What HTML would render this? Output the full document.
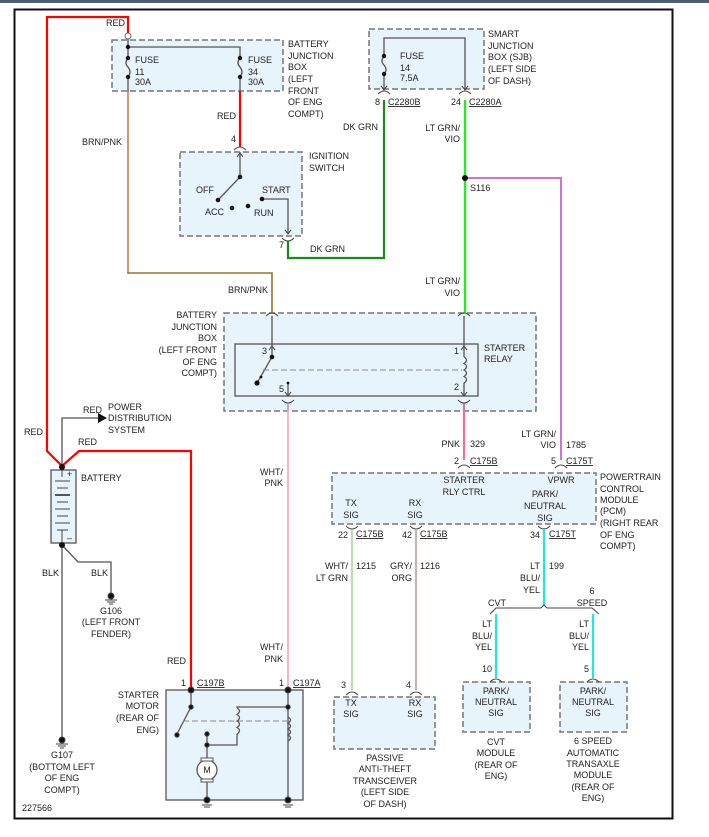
<!DOCTYPE html>
<html><head><meta charset="utf-8"><style>
html,body{margin:0;padding:0;background:#fff}
svg{display:block}
text{font-family:"Liberation Sans",sans-serif;font-size:9px;fill:#222}
.e{text-anchor:end}.m{text-anchor:middle}
.box{fill:#e8f4fb;stroke:#777;stroke-width:1.5;stroke-dasharray:6,3}
.sb{fill:#e8f4fb;stroke:#555;stroke-width:1.3}
.w{fill:none;stroke:#555;stroke-width:1.3}
.c{fill:none;stroke:#444;stroke-width:1}
</style></head><body>
<svg width="709" height="837" viewBox="0 0 709 837" xmlns="http://www.w3.org/2000/svg">
<rect x="0" y="0" width="709" height="3" fill="#4d5f72"/>
<rect x="14.5" y="9.5" width="658" height="809" fill="none" stroke="#111" stroke-width="2"/>

<!-- boxes -->
<rect class="box" x="112" y="40" width="171" height="51"/>
<rect class="box" x="180" y="152" width="122" height="84"/>
<rect class="box" x="369" y="29" width="115" height="60"/>
<rect class="box" x="224" y="313" width="312" height="98"/>
<rect class="sb" x="235" y="344" width="243" height="52" fill="#eaf5fb"/>
<rect class="box" x="332" y="473" width="264" height="51"/>
<rect class="box" x="334" y="697" width="101" height="52"/>
<rect class="box" x="463" y="682" width="67" height="50"/>
<rect class="box" x="560" y="682" width="67" height="50"/>
<rect class="sb" x="166" y="690" width="137" height="110"/>
<rect class="sb" x="51" y="470" width="25" height="73"/>

<!-- wires -->
<polyline points="128,36 128,17 47,17 47,451 62,466 79,451 191,451 191,690" fill="none" stroke="#f00" stroke-width="2.2"/>
<line x1="240" y1="91" x2="240" y2="147" stroke="#f00" stroke-width="2.2"/>
<polyline points="128,91 128,273 272,273 272,313" fill="none" stroke="#a0702a" stroke-width="1.6"/>
<polyline points="128,92 128,272" fill="none" stroke="#f4a0a0" stroke-width="0.6"/>
<polyline points="288,241 288,258 384,258 384,100" fill="none" stroke="#1a8a1a" stroke-width="2.2"/>
<line x1="465" y1="100" x2="465" y2="313" stroke="#22ee22" stroke-width="2.4"/>
<polyline points="465,178 561,178 561,460" fill="none" stroke="#d070d8" stroke-width="2"/>
<line x1="288" y1="403" x2="288" y2="690" stroke="#f4b8c4" stroke-width="2"/>
<line x1="464" y1="403" x2="464" y2="460" stroke="#f07090" stroke-width="2.2"/>
<line x1="352" y1="530" x2="352" y2="690" stroke="#bde0b0" stroke-width="2.2"/>
<line x1="416" y1="530" x2="416" y2="690" stroke="#c0b8b0" stroke-width="2.2"/>
<line x1="544" y1="530" x2="544" y2="605" stroke="#20e8e0" stroke-width="2.2"/>
<line x1="496" y1="614" x2="496" y2="678" stroke="#20e8e0" stroke-width="2.2"/>
<line x1="593" y1="614" x2="593" y2="678" stroke="#20e8e0" stroke-width="2.2"/>
<polyline class="c" points="490,614 496,608 541,608 544,605 547,608 592,608 599,614"/>

<!-- battery black wires -->
<polyline class="w" points="62,466 62,418 98,418"/>
<polygon points="98,413 107,418 98,423" fill="#111"/>
<polyline class="w" points="62,545 62,740"/>
<polyline class="w" points="62,545 78,562 111,562 111,594"/>
<circle cx="62" cy="467" r="3" fill="#111"/><circle cx="62" cy="545" r="3" fill="#111"/>
<g stroke="#444" stroke-width="1">
<line x1="62" y1="470" x2="62" y2="477"/>
<line x1="55" y1="481" x2="70" y2="481"/><line x1="57" y1="488" x2="68" y2="488"/>
<line x1="55" y1="495" x2="70" y2="495" stroke-width="1.8"/><line x1="57" y1="502" x2="68" y2="502"/>
<line x1="55" y1="509" x2="70" y2="509"/><line x1="57" y1="516" x2="68" y2="516"/>
<line x1="55" y1="523" x2="70" y2="523"/><line x1="57" y1="530" x2="68" y2="530"/>
<line x1="62" y1="530" x2="62" y2="543"/>
</g>
<text x="67" y="477" font-size="8">+</text><text x="67" y="541" font-size="8">–</text>
<!-- grounds -->
<g fill="#111" stroke="#444" stroke-width="1">
<circle cx="111" cy="596" r="3"/><line x1="105" y1="600" x2="117" y2="600"/><line x1="107" y1="602" x2="115" y2="602"/><line x1="109" y1="604" x2="113" y2="604"/>
<circle cx="62" cy="740" r="3"/><line x1="56" y1="744" x2="68" y2="744"/><line x1="58" y1="746" x2="66" y2="746"/><line x1="60" y1="748" x2="64" y2="748"/>
</g>

<!-- BJB internals -->
<circle cx="128" cy="36" r="3" fill="#fff" stroke="#666"/>
<polyline class="w" points="128,39 128,58"/><polyline class="w" points="128,47 240,47 240,58"/>
<path class="w" d="M128,58 q-4,5 0,9 q4,5 0,10 L128,91"/>
<path class="w" d="M240,58 q-4,5 0,9 q4,5 0,10 L240,91"/>
<g fill="#111"><circle cx="128" cy="47" r="2.2"/><circle cx="128" cy="58" r="2.2"/><circle cx="128" cy="77" r="2.2"/><circle cx="240" cy="58" r="2.2"/><circle cx="240" cy="77" r="2.2"/></g>

<!-- ignition -->
<path class="c" d="M234,150 q6,-6 12,0"/>
<polyline class="w" points="240,152 240,177 219,199"/>
<polyline class="c" points="237,157 240,153 243,157"/>
<polyline class="w" points="262,199 288,199 288,233"/>
<polyline class="c" points="285,230 288,234 291,230"/>
<path class="c" d="M282,238 q6,6 12,0"/>
<g fill="#111"><circle cx="240" cy="177" r="2.3"/><circle cx="218" cy="200" r="2.3"/><circle cx="232" cy="208" r="2.3"/><circle cx="248" cy="206" r="2.3"/><circle cx="262" cy="199" r="2.3"/></g>

<!-- SJB internals -->
<polyline class="w" points="384,56 384,38 465,38 465,89"/>
<path class="w" d="M384,56 q-4,5 0,9 q4,5 0,9 L384,89"/>
<g fill="#111"><circle cx="384" cy="56" r="2.2"/><circle cx="384" cy="74" r="2.2"/><circle cx="465" cy="178" r="3"/></g>
<polyline class="c" points="381,86 384,90 387,86"/><polyline class="c" points="462,86 465,90 468,86"/>
<path class="c" d="M378,94 q6,-6 12,0"/><path class="c" d="M459,94 q6,-6 12,0"/>

<!-- relay internals -->
<path class="c" d="M266,316 q6,-6 12,0"/><path class="c" d="M458,316 q6,-6 12,0"/>
<path class="c" d="M282,400 q6,6 12,0"/><path class="c" d="M458,400 q6,6 12,0"/>
<polyline class="w" points="272,316 272,357 257,383"/>
<polyline class="c" points="269,350 272,346 275,350"/>
<polyline class="w" points="464,316 464,357"/><polyline class="c" points="461,350 464,346 467,350"/>
<path class="w" d="M464,357 q5,3 0,6.5 q5,3 0,6.5 q5,3 0,6.5 q5,3 0,6.5"/>
<polyline class="w" points="464,383 464,396"/><polyline class="c" points="461,392 464,396 467,392"/>
<polyline class="w" points="288,383 288,396"/><polyline class="c" points="285,392 288,396 291,392"/>
<line x1="263" y1="370" x2="462" y2="370" stroke="#888" stroke-dasharray="6,3"/>
<line x1="288" y1="403" x2="288" y2="411" stroke="#999"/><line x1="464" y1="403" x2="464" y2="411" stroke="#999"/>
<g fill="#111"><circle cx="272" cy="357" r="2.3"/><circle cx="257" cy="383" r="2.6"/><circle cx="261" cy="377" r="1.4"/><circle cx="288" cy="383" r="1.4"/></g>

<!-- PCM / other connectors -->
<path class="c" d="M458,468 q6,-6 12,0"/><path class="c" d="M555,468 q6,-6 12,0"/>
<path class="c" d="M346,526 q6,6 12,0"/><path class="c" d="M410,526 q6,6 12,0"/><path class="c" d="M538,526 q6,6 12,0"/>
<path class="c" d="M346,695 q6,-6 12,0"/><path class="c" d="M410,695 q6,-6 12,0"/>
<path class="c" d="M490,682 q6,-6 12,0"/><path class="c" d="M587,682 q6,-6 12,0"/>

<!-- starter motor internals -->
<polyline class="w" points="191,690 191,707 177,734"/>
<line x1="183" y1="721" x2="287" y2="721" stroke="#888" stroke-dasharray="6,3"/>
<polyline class="w" points="288,690 288,800"/>
<polyline class="w" points="288,707 237,707 237,708"/>
<path class="w" d="M237,708 q5,3 0,6.5 q5,3 0,6.5 q5,3 0,6.5 q5,3 0,6.5"/>
<polyline class="w" points="237,734 237,745 207,745 207,760"/><line class="w" x1="207" y1="734" x2="207" y2="745"/>
<path class="w" d="M288,717 q5,3 0,6 q5,3 0,6 q5,3 0,6 q5,3 0,6"/>
<circle cx="207" cy="770" r="10" fill="#fff" stroke="#555" stroke-width="1.3"/>
<rect x="201" y="758" width="12" height="3" fill="#fff" stroke="#555"/><rect x="201" y="779" width="12" height="3" fill="#fff" stroke="#555"/>
<text x="207" y="773" class="m" font-size="8">M</text>
<polyline class="w" points="207,782 207,800"/>
<g fill="#111" stroke="#444" stroke-width="1">
<circle cx="191" cy="690" r="3"/><circle cx="288" cy="690" r="3"/><circle cx="191" cy="707" r="2.2"/><circle cx="177" cy="735" r="2.2"/><circle cx="288" cy="707" r="2.2"/><circle cx="207" cy="734" r="2.2"/><circle cx="207" cy="745" r="2.2"/>
<circle cx="207" cy="800" r="3"/><circle cx="288" cy="800" r="3"/>
<line x1="202" y1="805" x2="212" y2="805"/><line x1="204" y1="807" x2="210" y2="807"/>
<line x1="283" y1="805" x2="293" y2="805"/><line x1="285" y1="807" x2="291" y2="807"/>
</g>

<!-- labels -->
<text x="125" y="26" class="e">RED</text>
<text x="135" y="63">FUSE</text><text x="135" y="75">11</text><text x="135" y="85">30A</text>
<text x="248" y="63">FUSE</text><text x="248" y="75">34</text><text x="248" y="85">30A</text>
<text x="288" y="47">BATTERY</text><text x="288" y="59">JUNCTION</text><text x="288" y="70">BOX</text><text x="288" y="82">(LEFT</text><text x="288" y="94">FRONT</text><text x="288" y="105">OF ENG</text><text x="288" y="117">COMPT)</text>
<text x="236" y="119" class="e">RED</text>
<text x="122" y="145" class="e">BRN/PNK</text>
<text x="236" y="142" class="e">4</text>
<text x="309" y="159">IGNITION</text><text x="309" y="171">SWITCH</text>
<text x="196" y="193">OFF</text><text x="262" y="193">START</text><text x="205" y="215">ACC</text><text x="254" y="216">RUN</text>
<text x="284" y="248" class="e">7</text><text x="310" y="252">DK GRN</text>
<text x="378" y="130" class="e">DK GRN</text>
<text x="400" y="59">FUSE</text><text x="400" y="71">14</text><text x="400" y="81">7.5A</text>
<text x="488" y="37">SMART</text><text x="488" y="49">JUNCTION</text><text x="488" y="60">BOX (SJB)</text><text x="488" y="72">(LEFT SIDE</text><text x="488" y="84">OF DASH)</text>
<text x="380" y="105" class="e">8</text><text x="388" y="105" text-decoration="underline">C2280B</text>
<text x="461" y="105" class="e">24</text><text x="469" y="105" text-decoration="underline">C2280A</text>
<text x="460" y="131" class="e">LT GRN/</text><text x="460" y="142" class="e">VIO</text>
<text x="470" y="191">S116</text>
<text x="460" y="284" class="e">LT GRN/</text><text x="460" y="296" class="e">VIO</text>
<text x="268" y="293" class="e">BRN/PNK</text>
<text x="217" y="318" class="e">BATTERY</text><text x="217" y="330" class="e">JUNCTION</text><text x="217" y="341" class="e">BOX</text><text x="217" y="353" class="e">(LEFT FRONT</text><text x="217" y="365" class="e">OF ENG</text><text x="217" y="376" class="e">COMPT)</text>
<text x="267" y="354" class="e">3</text><text x="459" y="354" class="e">1</text><text x="284" y="392" class="e">5</text><text x="459" y="390" class="e">2</text>
<text x="484" y="351">STARTER</text><text x="484" y="362">RELAY</text>
<text x="83" y="413">RED</text><text x="108" y="410">POWER</text><text x="108" y="421">DISTRIBUTION</text><text x="108" y="433">SYSTEM</text>
<text x="43" y="435" class="e">RED</text><text x="78" y="445">RED</text>
<text x="81" y="481">BATTERY</text>
<text x="59" y="576" class="e">BLK</text><text x="91" y="576">BLK</text>
<text x="111" y="614" class="m">G106</text><text x="111" y="625" class="m">(LEFT FRONT</text><text x="111" y="637" class="m">FENDER)</text>
<text x="62" y="758" class="m">G107</text><text x="62" y="770" class="m">(BOTTOM LEFT</text><text x="62" y="781" class="m">OF ENG</text><text x="62" y="793" class="m">COMPT)</text>
<text x="22" y="811">227566</text>
<text x="283" y="475" class="e">WHT/</text><text x="283" y="486" class="e">PNK</text>
<text x="283" y="650" class="e">WHT/</text><text x="283" y="662" class="e">PNK</text>
<text x="186" y="664" class="e">RED</text>
<text x="186" y="686" class="e">1</text><text x="197" y="686" text-decoration="underline">C197B</text>
<text x="284" y="686" class="e">1</text><text x="293" y="686" text-decoration="underline">C197A</text>
<text x="159" y="698" class="e">STARTER</text><text x="159" y="709" class="e">MOTOR</text><text x="159" y="721" class="e">(REAR OF</text><text x="159" y="733" class="e">ENG)</text>
<text x="460" y="447" class="e">PNK</text><text x="470" y="447">329</text>
<text x="459" y="464" class="e">2</text><text x="470" y="464" text-decoration="underline">C175B</text>
<text x="556" y="437" class="e">LT GRN/</text><text x="556" y="448" class="e">VIO</text><text x="566" y="448">1785</text>
<text x="556" y="464" class="e">5</text><text x="566" y="464" text-decoration="underline">C175T</text>
<text x="464" y="483" class="m">STARTER</text><text x="464" y="495" class="m">RLY CTRL</text>
<text x="561" y="483" class="m">VPWR</text>
<text x="545" y="497" class="m">PARK/</text><text x="545" y="509" class="m">NEUTRAL</text><text x="545" y="521" class="m">SIG</text>
<text x="351" y="506" class="m">TX</text><text x="351" y="518" class="m">SIG</text>
<text x="415" y="506" class="m">RX</text><text x="415" y="518" class="m">SIG</text>
<text x="600" y="480">POWERTRAIN</text><text x="600" y="492">CONTROL</text><text x="600" y="503">MODULE</text><text x="600" y="514">(PCM)</text><text x="600" y="526">(RIGHT REAR</text><text x="600" y="538">OF ENG</text><text x="600" y="549">COMPT)</text>
<text x="348" y="538" class="e">22</text><text x="356" y="537" text-decoration="underline">C175B</text>
<text x="412" y="538" class="e">42</text><text x="420" y="537" text-decoration="underline">C175B</text>
<text x="540" y="538" class="e">34</text><text x="549" y="537" text-decoration="underline">C175T</text>
<text x="348" y="569" class="e">WHT/</text><text x="348" y="581" class="e">LT GRN</text><text x="356" y="569">1215</text>
<text x="412" y="569" class="e">GRY/</text><text x="412" y="581" class="e">ORG</text><text x="420" y="569">1216</text>
<text x="540" y="569" class="e">LT</text><text x="540" y="581" class="e">BLU/</text><text x="540" y="593" class="e">YEL</text><text x="549" y="569">199</text>
<text x="497" y="606" class="m">CVT</text><text x="592" y="594" class="m">6</text><text x="592" y="606" class="m">SPEED</text>
<text x="492" y="627" class="e">LT</text><text x="492" y="639" class="e">BLU/</text><text x="492" y="650" class="e">YEL</text>
<text x="589" y="627" class="e">LT</text><text x="589" y="639" class="e">BLU/</text><text x="589" y="650" class="e">YEL</text>
<text x="492" y="672" class="e">10</text><text x="589" y="672" class="e">5</text>
<text x="496" y="694" class="m">PARK/</text><text x="496" y="705" class="m">NEUTRAL</text><text x="496" y="716" class="m">SIG</text>
<text x="593" y="694" class="m">PARK/</text><text x="593" y="705" class="m">NEUTRAL</text><text x="593" y="716" class="m">SIG</text>
<text x="346" y="688" class="e">3</text><text x="411" y="688" class="e">4</text>
<text x="351" y="706" class="m">TX</text><text x="351" y="717" class="m">SIG</text>
<text x="415" y="706" class="m">RX</text><text x="415" y="717" class="m">SIG</text>
<text x="385" y="761" class="m">PASSIVE</text><text x="385" y="772" class="m">ANTI-THEFT</text><text x="385" y="784" class="m">TRANSCEIVER</text><text x="385" y="795" class="m">(LEFT SIDE</text><text x="385" y="807" class="m">OF DASH)</text>
<text x="496" y="745" class="m">CVT</text><text x="496" y="756" class="m">MODULE</text><text x="496" y="768" class="m">(REAR OF</text><text x="496" y="779" class="m">ENG)</text>
<text x="593" y="744" class="m">6 SPEED</text><text x="593" y="756" class="m">AUTOMATIC</text><text x="593" y="767" class="m">TRANSAXLE</text><text x="593" y="778" class="m">MODULE</text><text x="593" y="790" class="m">(REAR OF</text><text x="593" y="801" class="m">ENG)</text>
</svg>
</body></html>
